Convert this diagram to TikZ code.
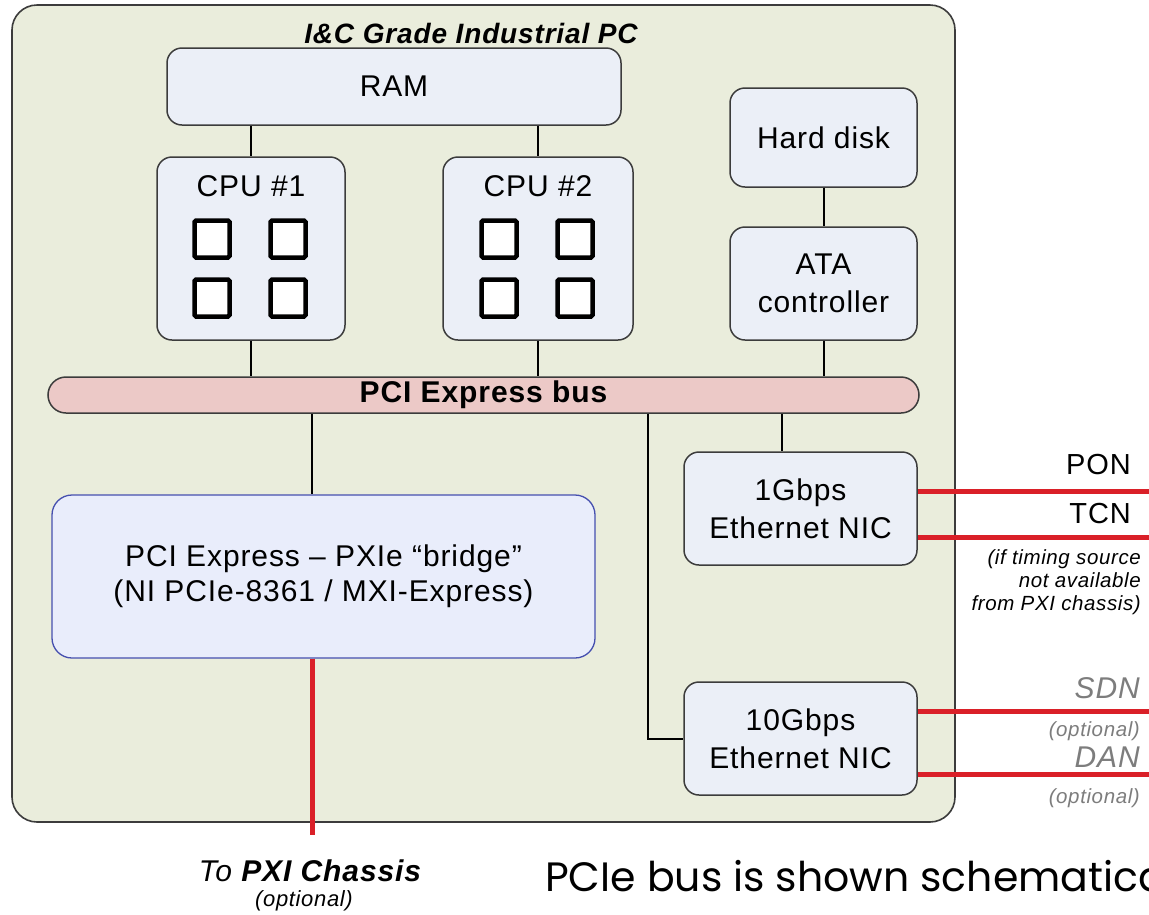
\documentclass[tikz,border=0pt]{standalone}
\usepackage{fontspec}
\setmainfont{Liberation Sans}[LetterSpace=3]
\newfontfamily\noteface{Poppins}
\definecolor{pcfill}{RGB}{234,237,220}
\definecolor{boxfill}{RGB}{235,239,247}
\definecolor{busfill}{RGB}{236,201,199}
\definecolor{bridgefill}{RGB}{233,237,251}
\definecolor{bridgeline}{RGB}{70,80,175}
\definecolor{edge}{RGB}{60,60,60}
\definecolor{wire}{RGB}{218,32,40}
\definecolor{softgray}{RGB}{125,125,125}
\tikzset{
  pcbox/.style={draw=edge, line width=1.6pt, fill=pcfill, rounded corners=25pt, inner sep=0pt},
  unit/.style={draw=edge, line width=1.5pt, fill=boxfill, rounded corners=15pt, inner sep=0pt,
    align=center, font=\fontsize{30}{38}\selectfont},
  core/.style={draw=black, line width=4.5pt, fill=white, minimum width=35pt, minimum height=37pt,
    inner sep=0pt, rounded corners=1.5pt},
  busbox/.style={draw=edge, line width=1.5pt, fill=busfill, rounded corners=18pt, inner sep=0pt,
    font=\fontsize{30}{34}\selectfont\bfseries},
  bridgebox/.style={draw=bridgeline, line width=1.3pt, fill=bridgefill, rounded corners=20pt,
    inner sep=0pt, align=center, font=\fontsize{30}{35}\selectfont},
  link/.style={draw=black, line width=2pt},
  redlink/.style={draw=wire, line width=5pt},
  netlabel/.style={font=\fontsize{29}{34}\selectfont, anchor=east, inner sep=0pt},
  softlabel/.style={font=\fontsize{30}{34}\selectfont\itshape, text=softgray, anchor=east, inner sep=0pt},
  smallnote/.style={font=\fontsize{20.5}{23}\selectfont\itshape, align=right, inner sep=0pt},
}
\begin{document}
\begin{tikzpicture}[x=1pt,y=-1pt]
\useasboundingbox (0,0) rectangle (1149,914);
\fill[white] (0,0) rectangle (1149,914);

% industrial PC enclosure
\node[pcbox, minimum width=943pt, minimum height=817pt] (pc) at (483.5,413.5) {};
\node[font=\fontsize{28}{32}\selectfont\bfseries\itshape, anchor=base, inner sep=0pt] (title) at (471,43) {I\&C Grade Industrial PC};

% memory and processors
\node[unit, minimum width=454pt, minimum height=77pt] (ram) at (394,86.5) {RAM};
\node[unit, minimum width=188pt, minimum height=183pt] (cpu1) at (251,248.5) {};
\node[unit, minimum width=190pt, minimum height=183pt] (cpu2) at (538,248.5) {};
\node[font=\fontsize{30}{34}\selectfont] (cpu1t) at (251,186) {CPU \#1};
\node[font=\fontsize{30}{34}\selectfont] (cpu2t) at (538,186) {CPU \#2};
\node[core] (c11) at (212,239) {};
\node[core] (c12) at (288,239) {};
\node[core] (c13) at (212,298) {};
\node[core] (c14) at (288,298) {};
\node[core] (c21) at (499,239) {};
\node[core] (c22) at (575,239) {};
\node[core] (c23) at (499,298) {};
\node[core] (c24) at (575,298) {};

% storage
\node[unit, minimum width=187pt, minimum height=99pt] (hd) at (823.5,137.5) {Hard disk};
\node[unit, minimum width=187pt, minimum height=113pt] (ata) at (823.5,283.5) {ATA\\controller};

% bus
\node[busbox, minimum width=871pt, minimum height=36pt] (bus) at (483.5,395) {PCI Express bus};

% peripherals
\node[bridgebox, minimum width=543pt, minimum height=163pt] (bridge) at (323.5,576.5)
  {PCI Express – PXIe “bridge”\\(NI PCIe-8361 / MXI-Express)};
\node[unit, minimum width=233pt, minimum height=113pt] (nic1) at (800.5,508.5) {1Gbps\\Ethernet NIC};
\node[unit, minimum width=233pt, minimum height=113pt] (nic2) at (800.5,738.5) {10Gbps\\Ethernet NIC};

% tap positions
\coordinate (xbridge) at (312,0);
\coordinate (xnic1) at (782,0);
\coordinate (xnic2) at (648,0);
\coordinate (pxi) at (312,835);
\coordinate (pon) at (1149,491);
\coordinate (tcn) at (1149,537);
\coordinate (sdn) at (1149,711);
\coordinate (dan) at (1149,774);

% internal connections
\draw[link] (ram.south -| cpu1) -- (cpu1.north);
\draw[link] (ram.south -| cpu2) -- (cpu2.north);
\draw[link] (hd.south) -- (ata.north);
\draw[link] (cpu1.south) -- (bus.north -| cpu1);
\draw[link] (cpu2.south) -- (bus.north -| cpu2);
\draw[link] (ata.south) -- (bus.north -| ata);
\draw[link] (bus.south -| xbridge) -- (bridge.north -| xbridge);
\draw[link] (bus.south -| xnic1) -- (nic1.north -| xnic1);
\draw[link] (bus.south -| xnic2) |- (nic2.west);

% external links
\draw[redlink] (bridge.south -| xbridge) -- (pxi);
\draw[redlink] (nic1.east |- pon) -- (pon);
\draw[redlink] (nic1.east |- tcn) -- (tcn);
\draw[redlink] (nic2.east |- sdn) -- (sdn);
\draw[redlink] (nic2.east |- dan) -- (dan);

% network labels
\node[netlabel] (ponl) at (1131,465) {PON};
\node[netlabel] (tcnl) at (1131,514) {TCN};
\node[smallnote, anchor=north east] (tcnnote) at (1141,549) {(if timing source\\not available\\from PXI chassis)};
\node[softlabel] (sdnl) at (1140,688) {SDN};
\node[smallnote, text=softgray, anchor=east] (sdnopt) at (1140,731) {(optional)};
\node[softlabel] (danl) at (1140,757) {DAN};
\node[smallnote, text=softgray, anchor=east] (danopt) at (1140,798) {(optional)};

% chassis label
\node[font=\fontsize{30}{34}\selectfont\itshape, inner sep=0pt] (pxil) at (310,871) {To \textbf{PXI Chassis}};
\node[font=\fontsize{22}{26}\selectfont\itshape, inner sep=0pt] (pxiopt) at (304,901) {(optional)};

% side note, running off the page edge
\begin{scope}
\clip (0,0) rectangle (1149,914);
\node[font=\noteface\fontsize{41}{46}\selectfont, anchor=west, inner sep=0pt] (note) at (545,876)
  {PCIe bus is shown schematica};
\end{scope}
\end{tikzpicture}
\end{document}
